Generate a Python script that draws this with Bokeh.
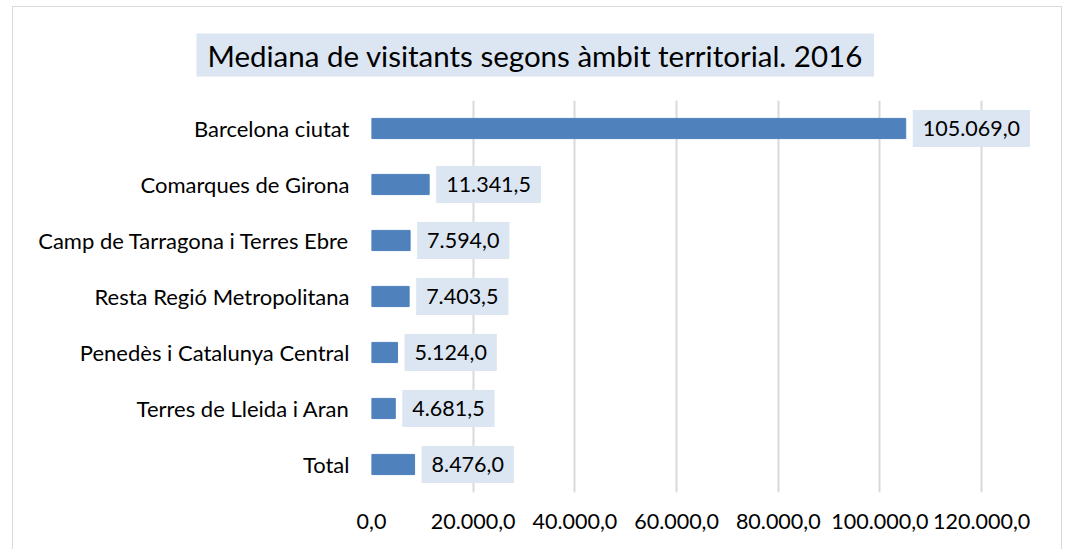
from bokeh.plotting import figure
from bokeh.models import ColumnDataSource, FixedTicker, FactorRange, Range1d
from bokeh.core.properties import value
from bokeh.embed import file_html
from bokeh.resources import INLINE

categories = ["Barcelona ciutat", "Comarques de Girona", "Camp de Tarragona i Terres Ebre",
              "Resta Regió Metropolitana", "Penedès i Catalunya Central",
              "Terres de Lleida i Aran", "Total"]
values = [105069.0, 11341.5, 7594.0, 7403.5, 5124.0, 4681.5, 8476.0]
value_labels = ["105.069,0", "11.341,5", "7.594,0", "7.403,5", "5.124,0", "4.681,5", "8.476,0"]
tick_values = [0, 20000, 40000, 60000, 80000, 100000, 120000]
tick_labels = ["0,0", "20.000,0", "40.000,0", "60.000,0", "80.000,0", "100.000,0", "120.000,0"]
title_text = "Mediana de visitants segons àmbit territorial. 2016"

FONT = "Lato"

src = ColumnDataSource(dict(cat=categories, val=values, lab=value_labels))

p = figure(y_range=FactorRange(*reversed(categories), range_padding=0),
           x_range=Range1d(0, 130000),
           frame_width=661, frame_height=392,
           min_border_left=358, min_border_top=93, min_border_right=29, min_border_bottom=60,
           output_backend="svg", toolbar_location=None)
p.styles = {"border": "1px solid #d9d9d9", "margin-left": "12px", "margin-top": "6px"}

p.hbar(y="cat", right="val", height=0.36, source=src, color="#4f81bd")

p.text(x="val", y="cat", text="lab", source=src, x_offset=7,
       text_align="left", text_baseline="middle",
       text_font=value(FONT), text_font_size="21.5px", text_color="#000000",
       background_fill_color="#dce6f2",
       padding=dict(left=10, right=10, top=11, bottom=11))

p.title.text = title_text
p.title.align = "left"
p.title.vertical_align = "bottom"
p.title.offset = -175
p.title.text_font = FONT
p.title.text_font_size = "29.5px"
p.title.text_font_style = "normal"
p.title.text_color = "#000000"
p.title.background_fill_color = "#dce6f2"
p.title.padding = dict(left=11, right=11, top=4, bottom=4)
p.title.standoff = 48

p.xaxis.ticker = FixedTicker(ticks=tick_values)
p.xaxis.major_label_overrides = {v: l for v, l in zip(tick_values, tick_labels)}
for ax in (p.xaxis[0], p.yaxis[0]):
    ax.axis_line_color = None
    ax.major_tick_line_color = None
    ax.minor_tick_line_color = None
    ax.major_label_text_font = FONT
    ax.major_label_text_font_size = "21.5px"
    ax.major_label_text_color = "#000000"
p.yaxis.major_label_text_font_size = "22px"
p.xaxis.major_label_standoff = 15
p.yaxis.major_label_standoff = 16

p.ygrid.grid_line_color = None
p.xgrid.grid_line_color = "#d9d9d9"
p.xgrid.grid_line_width = 2
p.outline_line_color = None

open("out.html", "w").write(file_html(p, INLINE))
